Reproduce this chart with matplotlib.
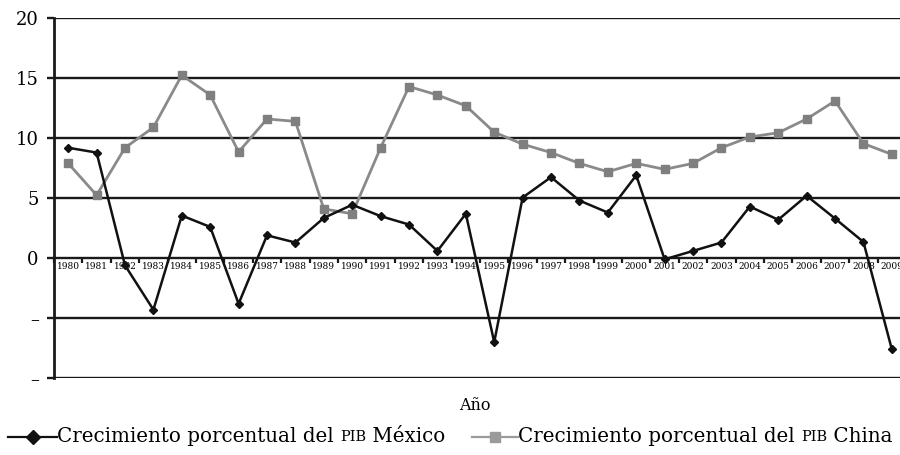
import matplotlib.pyplot as plt
from matplotlib.lines import Line2D

years = list(range(1980, 2010))
mexico = [9.2, 8.8, -0.6, -4.3, 3.55, 2.6, -3.8, 1.9, 1.3, 3.35,
          4.45, 3.5, 2.8, 0.6, 3.7, -7.0, 5.05, 6.75, 4.8, 3.8,
          6.9, -0.1, 0.6, 1.3, 4.3, 3.2, 5.2, 3.3, 1.35, -7.6]
china = [7.9, 5.25, 9.2, 10.9, 15.25, 13.6, 8.85, 11.6, 11.4, 4.1,
         3.7, 9.2, 14.3, 13.6, 12.7, 10.5, 9.5, 8.8, 7.9, 7.2,
         7.9, 7.4, 7.9, 9.2, 10.1, 10.45, 11.6, 13.1, 9.55, 8.65]
yticks = [20, 15, 10, 5, 0, -5, -10]
ytick_labels = ['20', '15', '10', '5', '0', '–', '–']

serif = 'DejaVu Serif'
plt.rcParams['font.family'] = serif

fig = plt.figure(figsize=(9, 4.55), dpi=100)
ax = fig.add_axes([0.06, 0.169, 0.9467, 0.791])

x = list(range(len(years)))
ax.set_xlim(-0.5, len(years) - 0.5)
ax.set_ylim(-10, 20)

# horizontal rules
for v in [20, 15, 10, 5, -5, -10]:
    ax.axhline(v, color='#1a1a1a', lw=1.7, zorder=1)

ax.plot(x, china, color='#8a8a8a', lw=2, marker='s', ms=5.5,
        mfc='#7f7f7f', mec='#7f7f7f', zorder=3)
ax.plot(x, mexico, color='#111111', lw=1.8, marker='D', ms=4.5,
        mfc='#111111', mec='#111111', zorder=4)

# x axis sits on the zero line
for s in ['top', 'right']:
    ax.spines[s].set_visible(False)
ax.spines['bottom'].set_position(('data', 0))
ax.spines['bottom'].set_linewidth(1.7)
ax.spines['bottom'].set_color('#1a1a1a')
ax.spines['bottom'].set_zorder(2)
ax.spines['left'].set_linewidth(2)
ax.spines['left'].set_color('#1a1a1a')

ax.set_xticks(x)
ax.set_xticklabels([str(y) for y in years], fontsize=6.5)
ax.set_xticks([i - 0.5 for i in range(len(years) + 1)], minor=True)
ax.tick_params(axis='x', which='major', length=0, pad=3)
ax.tick_params(axis='x', which='minor', length=3.5, width=1.6, color='#1a1a1a')

ax.set_yticks(yticks)
ax.set_yticklabels(ytick_labels, fontsize=13)
ax.tick_params(axis='y', length=5, width=1.7, color='#1a1a1a', pad=6)

fig.text(475 / 900, 1 - 405 / 455, 'Año', ha='center', va='center', fontsize=11.5)

# legend built from pieces so PIB can be set in small caps
renderer = fig.canvas.get_renderer()
ly = 1 - 437 / 455


def legend_entry(x0, x1, color, marker, ms, lw, parts):
    fig.add_artist(Line2D([x0 / 900, x1 / 900], [ly, ly], color=color, lw=lw,
                          transform=fig.transFigure))
    fig.add_artist(Line2D([(x0 + x1) / 1800], [ly], color=color, marker=marker,
                          ms=ms, transform=fig.transFigure))
    px = x1
    for txt, size in parts:
        t = fig.text(px / 900, ly, txt, fontsize=size, ha='left', va='center')
        px += t.get_window_extent(renderer).width


legend_entry(8, 57, '#111111', 'D', 7.5, 1.6,
             [('Crecimiento porcentual del ', 14.3), ('PIB', 10.5), (' México', 14.3)])
legend_entry(472, 518, '#9a9a9a', 's', 7.5, 1.6,
             [('Crecimiento porcentual del ', 14.3), ('PIB', 10.5), (' China', 14.3)])

fig.savefig('out.png', dpi=100)
